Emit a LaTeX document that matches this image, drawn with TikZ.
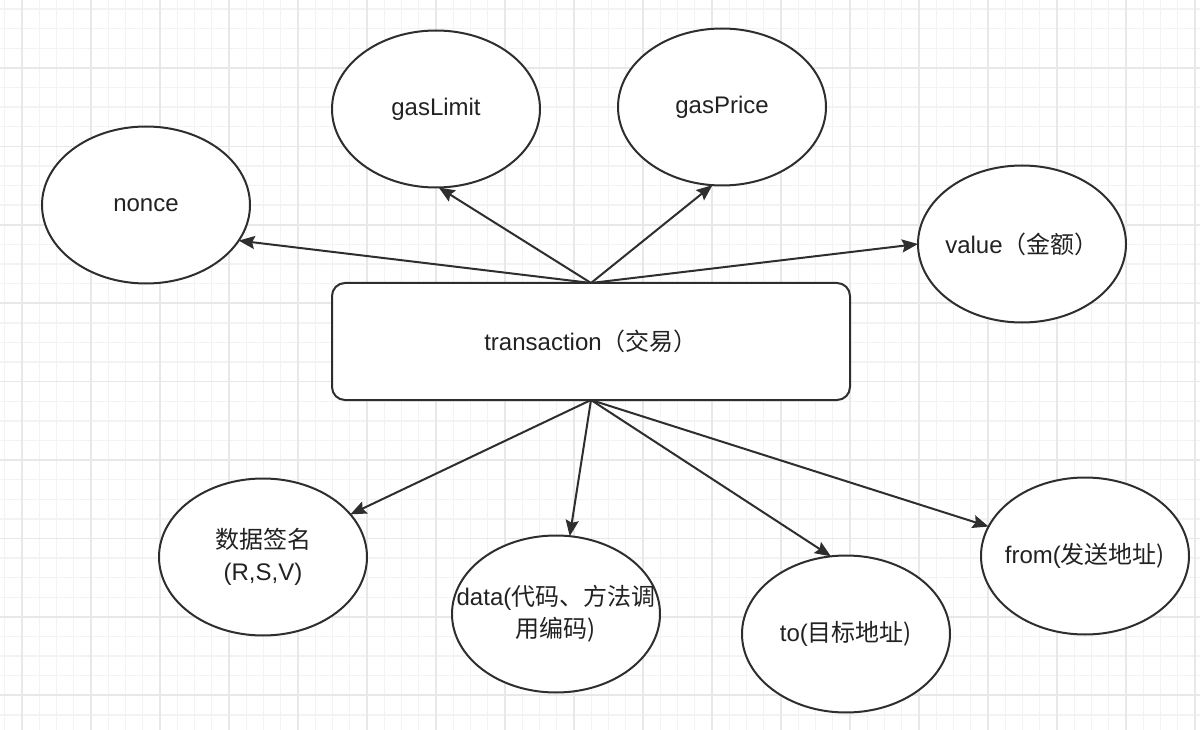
\documentclass[tikz,border=0pt]{standalone}
\usepackage{fontspec}
\setmainfont{Liberation Sans}
\newfontfamily\cjk{Noto Sans CJK SC}
\usetikzlibrary{shapes.geometric,arrows.meta}
\definecolor{gridminor}{HTML}{F3F3F3}
\definecolor{gridmajor}{HTML}{E8E8E8}
\definecolor{ink}{HTML}{2E2E2E}
\definecolor{txt}{HTML}{222222}
\begin{document}
\begin{tikzpicture}[x=1pt,y=-1pt,
  ell/.style={ellipse,draw=ink,line width=2pt,fill=white,minimum width=208pt,minimum height=157pt,inner sep=0pt,outer sep=0pt},
  lbl/.style={font=\fontsize{24}{32}\selectfont,text=txt,align=center,inner sep=0pt},
  box/.style={draw=ink,line width=2pt,fill=white,rounded corners=13pt,minimum width=518pt,minimum height=117pt,inner sep=0pt,outer sep=0pt},
  conn/.style={draw=ink,line width=2pt,-{Stealth[length=16pt,width=13pt,inset=2.5pt]}},
  gminor/.style={draw=gridminor,line width=1.4pt},
  gmajor/.style={draw=gridmajor,line width=1.6pt}]
\useasboundingbox (0,0) rectangle (1200,730);
\fill[white] (0,0) rectangle (1200,730);
% grid
\foreach \i in {-1,...,68} \draw[gminor] ({22+17.25*\i},0) -- ({22+17.25*\i},730);
\foreach \j in {-3,...,33} \draw[gminor] (0,{68+19.6*\j}) -- (1200,{68+19.6*\j});
\foreach \i in {0,...,17} \draw[gmajor] ({22+69*\i},0) -- ({22+69*\i},730);
\foreach \j in {0,...,8} \draw[gmajor] (0,{68+78.4*\j}) -- (1200,{68+78.4*\j});

% nodes
\node[box] (tx) at (591,341.5) {};
\node[lbl] (txt) at (tx.center) {transaction\cjk{（交易）}};

\node[ell] (nonce) at (146,205) {};
\node[lbl] (noncet) at (nonce.center) {nonce};
\node[ell] (gaslimit) at (436,109) {};
\node[lbl] (gaslimitt) at (gaslimit.center) {gasLimit};
\node[ell] (gasprice) at (722,107) {};
\node[lbl] (gaspricet) at (gasprice.center) {gasPrice};
\node[ell] (value) at (1022,244) {};
\node[lbl] (valuet) at (value.center) {value\cjk{（金额）}};

\node[ell] (sig) at (263,557) {};
\node[lbl] (sigt) at (sig.center) {\cjk{数据签名}\\(R,S,V)};
\node[ell] (data) at (556,614) {};
\node[lbl] (datat) at (data.center) {data(\cjk{代码、方法调}\\\cjk{用编码})};
\node[ell] (to) at (846,634) {};
\node[lbl] (tot) at (to.center) {to(\cjk{目标地址})};
\node[ell] (from) at (1085,556) {};
\node[lbl] (fromt) at (from.center) {from(\cjk{发送地址})};

% connectors
\draw[conn] (tx.north) -- (nonce.-21);
\draw[conn] (tx.north) -- (gaslimit.-88);
\draw[conn] (tx.north) -- (gasprice.-97);
\draw[conn] (tx.north) -- (value.180);
\draw[conn] (tx.south) -- (sig.26);
\draw[conn] (tx.south) -- (data.80);
\draw[conn] (tx.south) -- (to.101);
\draw[conn] (tx.south) -- (from.163);
\end{tikzpicture}
\end{document}
